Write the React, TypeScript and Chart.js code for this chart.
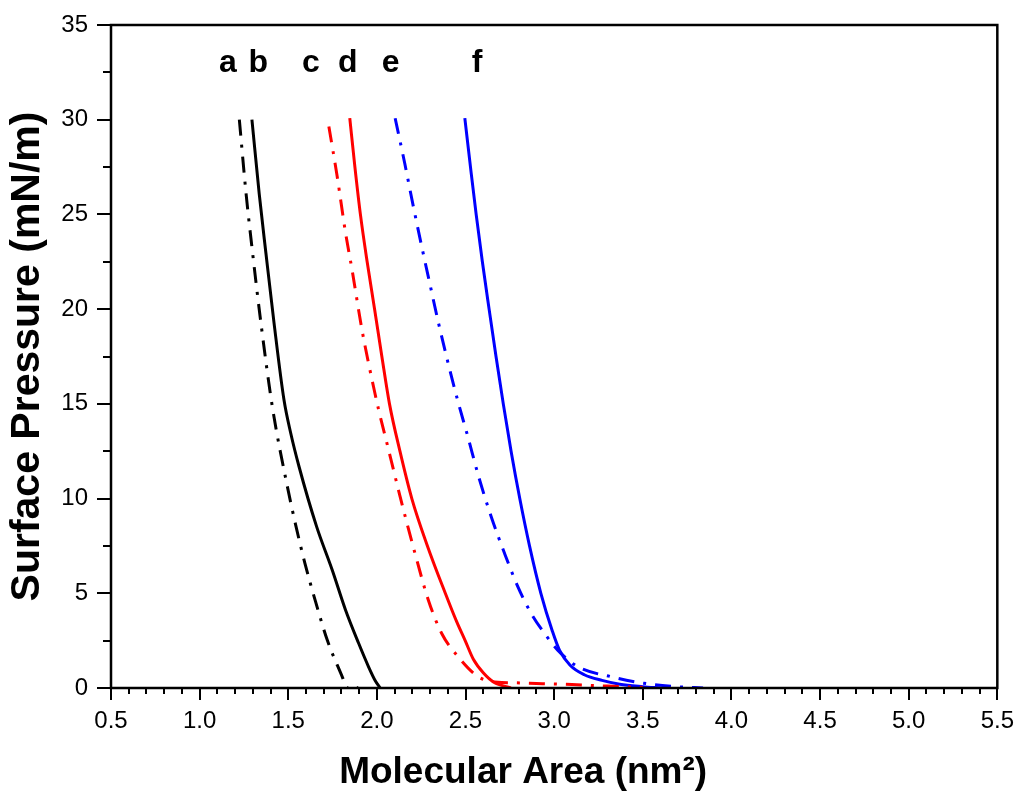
import React, { useEffect, useRef } from 'react';
import { Chart, registerables } from 'chart.js';

Chart.register(...registerables);

const FONT = "'Liberation Sans', Arial, sans-serif";

// Axis settings
const xMin = 0.5;
const xMax = 5.5;
const yMin = 0;
const yMax = 35;
const xMajorStep = 0.5;
const xMinorStep = 0.1;
const yMajorStep = 5;
const yMinorStep = 2.5;

const xTitle = 'Molecular Area (nm\u00B2)';
const yTitle = 'Surface Pressure (mN/m)';

// Curve labels
const curveLabels = ['a', 'b', 'c', 'd', 'e', 'f'];
const curveLabelX = [1.159, 1.331, 1.628, 1.836, 2.077, 2.565];
const curveLabelY = 32.5;

// Series data (molecular area, surface pressure)
const aX = [1.224, 1.262, 1.299, 1.346, 1.411, 1.495, 1.542, 1.594, 1.654, 1.72, 1.808, 1.83, 1.86, 1.875, 1.89];
const aY = [30, 26.1, 22.95, 19.25, 14.8, 10.63, 8.6, 6.58, 4.56, 2.53, 0.51, 0.0, 0.15, 0.15, 0];

const bX = [1.295, 1.336, 1.374, 1.42, 1.476, 1.514, 1.561, 1.66, 1.748, 1.823, 1.897, 1.953, 1.99, 2.019];
const bY = [30, 26.1, 22.95, 19.25, 15.2, 13.45, 11.68, 8.52, 6.23, 4.12, 2.36, 1.12, 0.4, 0];

const cX = [1.729, 1.776, 1.822, 1.86, 1.916, 1.981, 2.01, 2.066, 2.131, 2.215, 2.29, 2.365, 2.458, 2.571, 2.683, 2.75, 2.9, 3.1, 3.3, 3.5];
const cY = [29.64, 27.0, 24.1, 22.07, 18.9, 15.9, 14.68, 12.57, 10.1, 7.11, 4.65, 2.89, 1.65, 0.6, 0.3, 0.28, 0.24, 0.18, 0.1, 0.03];

const dX = [1.847, 1.876, 1.907, 1.945, 1.987, 2.028, 2.071, 2.13, 2.197, 2.285, 2.386, 2.45, 2.498, 2.545, 2.6, 2.66, 2.756];
const dY = [30.08, 27.5, 25, 22.5, 20, 17.5, 15, 12.5, 10, 7.5, 5, 3.5, 2.5, 1.5, 0.8, 0.3, 0];

const eX = [2.103, 2.157, 2.206, 2.253, 2.298, 2.348, 2.402, 2.458, 2.513, 2.574, 2.645, 2.72, 2.795, 2.87, 2.945, 3.02, 3.132, 3.319, 3.506, 3.693, 3.84];
const eY = [30.08, 27.7, 25.4, 23.3, 21.37, 19.25, 17.14, 15.1, 13.27, 11.16, 9.04, 7.11, 5.35, 3.94, 2.89, 2.0, 1.13, 0.6, 0.25, 0.07, 0];

const fX = [2.496, 2.528, 2.56, 2.595, 2.633, 2.672, 2.713, 2.757, 2.806, 2.861, 2.925, 2.99, 3.03, 3.09, 3.17, 3.27, 3.37, 3.5, 3.6];
const fY = [30.08, 27.5, 25, 22.5, 20, 17.5, 15, 12.5, 10, 7.5, 5, 3, 2, 1.2, 0.7, 0.4, 0.2, 0.07, 0];

const DASH_DOT = [16, 9, 3, 9];

const zip = (xs: number[], ys: number[]) => xs.map((x, i) => ({ x, y: ys[i] }));

const decorPlugin = {
  id: 'decor',
  afterDraw(chart: any) {
    const { ctx, chartArea, scales } = chart;
    const { left, right, top, bottom } = chartArea;
    const xs = scales.x;
    const ys = scales.y;
    ctx.save();
    // frame
    ctx.strokeStyle = '#000';
    ctx.lineWidth = 2.5;
    ctx.strokeRect(left, top, right - left, bottom - top);
    // minor ticks
    ctx.lineWidth = 2;
    ctx.beginPath();
    const nx = Math.round((xMax - xMin) / xMinorStep);
    for (let i = 0; i <= nx; i++) {
      if (i % Math.round(xMajorStep / xMinorStep) === 0) continue;
      const px = Math.round(xs.getPixelForValue(xMin + i * xMinorStep));
      ctx.moveTo(px, bottom);
      ctx.lineTo(px, bottom + 6);
    }
    const ny = Math.round((yMax - yMin) / yMinorStep);
    for (let i = 0; i <= ny; i++) {
      if (i % Math.round(yMajorStep / yMinorStep) === 0) continue;
      const py = Math.round(ys.getPixelForValue(yMin + i * yMinorStep));
      ctx.moveTo(left, py);
      ctx.lineTo(left - 8, py);
    }
    ctx.stroke();
    // axis titles
    ctx.fillStyle = '#000';
    ctx.font = `bold 37px ${FONT}`;
    ctx.textAlign = 'center';
    ctx.textBaseline = 'alphabetic';
    ctx.fillText(xTitle, (left + right) / 2 - 31, bottom + 95);
    ctx.save();
    ctx.translate(left - 83, (top + bottom) / 2);
    ctx.rotate(-Math.PI / 2);
    ctx.font = `bold 41px ${FONT}`;
    ctx.textBaseline = 'middle';
    ctx.fillText(yTitle, 0, 0);
    ctx.restore();
    // curve labels
    ctx.font = `bold 32px ${FONT}`;
    ctx.textBaseline = 'alphabetic';
    curveLabels.forEach((t, i) => {
      ctx.fillText(t, xs.getPixelForValue(curveLabelX[i]), ys.getPixelForValue(curveLabelY));
    });
    ctx.restore();
  },
};

export default function App() {
  const ref = useRef<HTMLCanvasElement | null>(null);
  useEffect(() => {
    document.body.style.margin = '0';
    if (!ref.current) return;
    const mk = (label: string, xs: number[], ys: number[], color: string, dashed: boolean) => ({
      label,
      data: zip(xs, ys),
      borderColor: color,
      backgroundColor: color,
      borderWidth: 3,
      borderDash: dashed ? DASH_DOT : [],
      pointRadius: 0,
      cubicInterpolationMode: 'monotone',
      fill: false,
    });
    const chart = new Chart(ref.current, {
      type: 'line',
      data: {
        datasets: [
          mk('a', aX, aY, '#000000', true),
          mk('b', bX, bY, '#000000', false),
          mk('c', cX, cY, '#ff0000', true),
          mk('d', dX, dY, '#ff0000', false),
          mk('e', eX, eY, '#0000ff', true),
          mk('f', fX, fY, '#0000ff', false),
        ] as any,
      },
      plugins: [decorPlugin],
      options: {
        responsive: false,
        animation: false,
        layout: { padding: { top: 25, right: 19, left: 0, bottom: 0 } },
        plugins: { legend: { display: false }, tooltip: { enabled: false } },
        scales: {
          x: {
            type: 'linear',
            min: xMin,
            max: xMax,
            border: { display: false },
            grid: { drawOnChartArea: false, drawTicks: true, tickLength: 12, color: '#000', lineWidth: 2 },
            ticks: {
              stepSize: xMajorStep,
              autoSkip: false,
              maxRotation: 0,
              padding: 7,
              color: '#000',
              font: { family: FONT, size: 24 },
              callback: (v: any) => Number(v).toFixed(1),
            },
            afterFit: (s: any) => { s.height = 103; },
          },
          y: {
            type: 'linear',
            min: yMin,
            max: yMax,
            border: { display: false },
            grid: { drawOnChartArea: false, drawTicks: true, tickLength: 14, color: '#000', lineWidth: 2 },
            ticks: {
              stepSize: yMajorStep,
              padding: 9,
              color: '#000',
              font: { family: FONT, size: 24 },
              callback: (v: any) => String(v),
            },
            afterFit: (s: any) => { s.width = 111; },
          },
        },
      },
    });
    return () => chart.destroy();
  }, []);
  return (
    <div style={{ width: 1021, height: 791 }}>
      <canvas ref={ref} width={1021} height={791} style={{ display: 'block' }} />
    </div>
  );
}
